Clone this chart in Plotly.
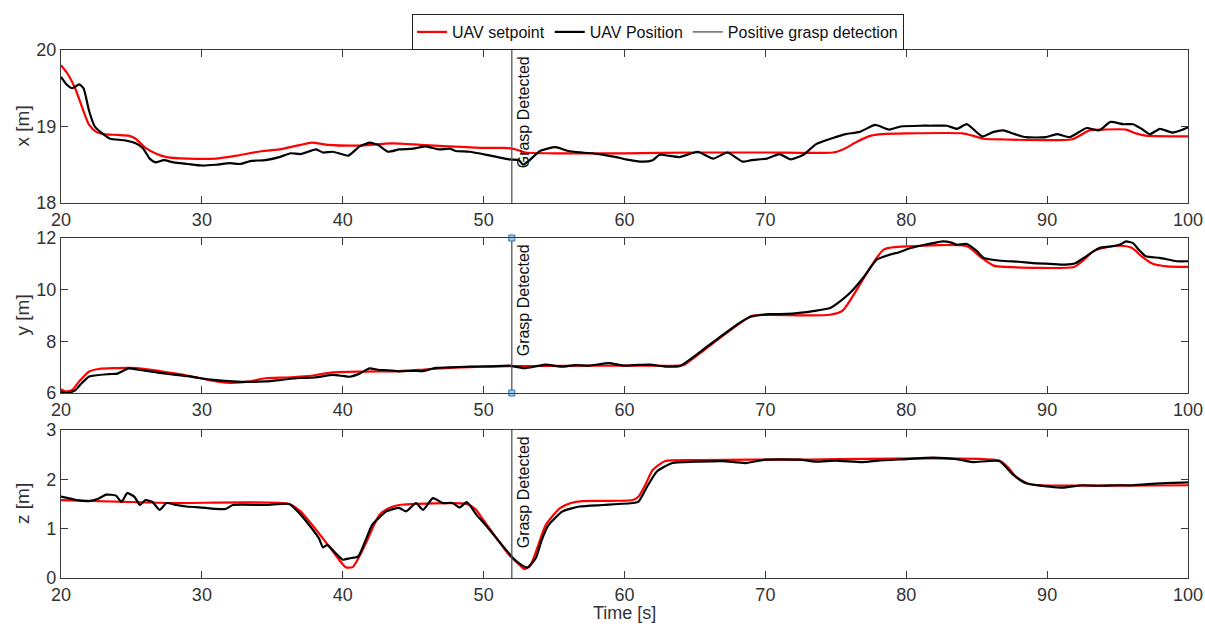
import plotly.graph_objects as go

# ---- time stamps / values for each channel (s, m) ----
x_sp_t = [20, 20.5, 21, 21.5, 22, 22.5, 23, 24, 24.8, 25.3, 26, 26.8, 27.5, 29, 31, 32.5, 34, 35.5,
          37, 37.8, 39, 41, 43.5, 45.5, 47.5, 50, 51.5, 52.3, 53, 55, 60, 65, 70, 74.8, 75.5, 76.5,
          77.5, 78.3, 80, 84, 84.7, 85.5, 87, 91.7, 92.3, 93, 94, 95.6, 96.3, 97, 100]
x_sp = [19.80, 19.68, 19.50, 19.25, 19.02, 18.93, 18.90, 18.89, 18.88, 18.84, 18.72, 18.64, 18.60,
        18.58, 18.58, 18.62, 18.67, 18.70, 18.76, 18.79, 18.76, 18.75, 18.78, 18.76, 18.74, 18.72,
        18.72, 18.70, 18.66, 18.65, 18.65, 18.66, 18.66, 18.66, 18.70, 18.80, 18.88, 18.90, 18.91,
        18.91, 18.88, 18.84, 18.83, 18.83, 18.88, 18.95, 18.96, 18.96, 18.91, 18.88, 18.87]

x_pos_t = [20, 20.4, 20.8, 21.3, 21.6, 22, 22.4, 23, 23.5, 24.5, 25.3, 25.8, 26.3, 26.7, 27.3, 28, 29,
           30, 31, 32, 32.7, 33.5, 34.5, 35.5, 36.3, 37, 38.1, 38.6, 39.3, 40.4, 41.2, 41.9, 42.5,
           43.2, 44, 45, 45.9, 46.8, 47.6, 48, 49, 50.2, 51, 51.8, 52.5, 52.8, 53.2, 54, 55.1, 56,
           57, 58.2, 59.4, 60.1, 61.3, 62, 62.5, 63.9, 65.2, 66.3, 67.3, 68.4, 69, 70.1, 71, 71.8,
           72.7, 73.6, 74.8, 75.7, 76.7, 77.8, 78.8, 79.6, 81, 81.7, 82.9, 83.6, 84.3, 85.4, 86.2,
           86.9, 87.7, 88.5, 89.9, 90.7, 91.6, 92.8, 93.7, 94.5, 95.4, 96.1, 96.7, 97.3, 98, 98.9,
           99.5, 100]
x_pos = [19.65, 19.55, 19.50, 19.55, 19.50, 19.20, 19.00, 18.90, 18.84, 18.82, 18.78, 18.72, 18.58,
         18.53, 18.56, 18.53, 18.51, 18.49, 18.50, 18.52, 18.51, 18.55, 18.56, 18.60, 18.65, 18.64,
         18.70, 18.66, 18.67, 18.62, 18.74, 18.79, 18.76, 18.67, 18.70, 18.71, 18.74, 18.70, 18.71,
         18.68, 18.67, 18.63, 18.60, 18.57, 18.56, 18.50, 18.55, 18.68, 18.73, 18.68, 18.66, 18.64,
         18.60, 18.57, 18.54, 18.56, 18.63, 18.60, 18.67, 18.58, 18.66, 18.54, 18.56, 18.58, 18.64,
         18.57, 18.63, 18.77, 18.85, 18.90, 18.93, 19.02, 18.96, 19.00, 19.01, 19.01, 19.01, 18.97,
         19.03, 18.87, 18.93, 18.95, 18.90, 18.86, 18.86, 18.90, 18.86, 18.98, 18.95, 19.06, 19.03,
         19.03, 18.97, 18.90, 18.97, 18.92, 18.95, 18.99]

y_sp_t = [20, 20.3, 20.8, 21.3, 22, 22.7, 24.8, 26, 27, 28.5, 29.8, 31, 31.7, 32.5, 33.4, 34.5, 36,
          37.5, 39.3, 41.6, 44, 46, 48, 50, 52, 55, 60, 64, 64.2, 69, 70, 74.6, 75.5, 78.4, 80.3,
          84.3, 85.3, 86.2, 87, 91.9, 92.5, 93.3, 94, 95.2, 96, 96.8, 97.5, 98.5, 100]
y_sp = [6.15, 6.06, 6.12, 6.45, 6.83, 6.93, 6.97, 6.93, 6.85, 6.72, 6.58, 6.45, 6.40, 6.40, 6.45,
        6.57, 6.60, 6.65, 6.80, 6.83, 6.85, 6.92, 6.98, 7.02, 7.04, 7.05, 7.06, 7.06, 7.08, 8.98,
        9.02, 9.03, 9.20, 11.55, 11.68, 11.68, 11.25, 10.93, 10.88, 10.88, 11.10, 11.50, 11.62,
        11.70, 11.62, 11.25, 11.00, 10.90, 10.88]

y_pos_t = [20, 20.5, 21, 21.5, 22, 23.4, 24, 24.8, 25.5, 26.2, 27, 27.9, 29, 29.8, 31, 32.2, 33.5,
           34.5, 35.5, 36.9, 38, 39.3, 40, 40.5, 41.2, 41.9, 42.5, 43.2, 44, 45, 45.7, 46.6, 47.5,
           49, 50.5, 51.8, 52.9, 53.7, 54.4, 55.5, 56.5, 57.5, 58.9, 59.9, 61, 61.8, 62.9, 64, 66,
           68, 68.9, 70.3, 71.5, 72.4, 73.5, 74.6, 75.3, 76, 77, 77.9, 78.8, 79.5, 80.3, 81, 81.9,
           82.6, 83.2, 83.6, 84.3, 85, 85.5, 86.7, 88, 89, 90.2, 91.3, 92, 92.6, 93.7, 94.6, 95.2,
           95.6, 96.1, 96.5, 97, 98, 99.2, 100]
y_pos = [6.05, 6.00, 6.10, 6.40, 6.64, 6.73, 6.75, 6.95, 6.90, 6.85, 6.78, 6.72, 6.65, 6.58, 6.50,
         6.45, 6.43, 6.45, 6.50, 6.58, 6.60, 6.70, 6.66, 6.63, 6.75, 6.95, 6.90, 6.88, 6.84, 6.86,
         6.85, 6.97, 6.99, 7.02, 7.03, 7.06, 6.96, 7.03, 7.10, 7.02, 7.08, 7.06, 7.16, 7.06, 7.09,
         7.10, 7.02, 7.06, 7.85, 8.65, 8.94, 9.05, 9.06, 9.10, 9.18, 9.29, 9.55, 9.87, 10.50, 11.16,
         11.35, 11.45, 11.61, 11.70, 11.80, 11.87, 11.82, 11.74, 11.77, 11.50, 11.23, 11.12, 11.08,
         11.03, 11.00, 10.97, 11.02, 11.23, 11.61, 11.68, 11.75, 11.87, 11.80, 11.55, 11.29, 11.23,
         11.10, 11.10]

z_sp_t = [20, 27.5, 36.2, 37, 38.1, 39.3, 40.2, 40.7, 41.2, 41.7, 42.6, 43.3, 44, 48.8, 49.4, 49.9,
          51.8, 52.5, 52.9, 53.3, 53.8, 54.4, 55.4, 56.2, 57, 60.6, 61, 61.5, 62, 62.9, 65.3, 72.4,
          86.6, 87.2, 87.8, 88.5, 89, 100]
z_sp = [1.58, 1.52, 1.50, 1.35, 0.98, 0.54, 0.22, 0.22, 0.45, 0.74, 1.28, 1.42, 1.48, 1.50, 1.40,
        1.21, 0.47, 0.28, 0.18, 0.25, 0.60, 1.07, 1.41, 1.52, 1.56, 1.58, 1.65, 1.90, 2.19, 2.37,
        2.39, 2.40, 2.38, 2.25, 2.05, 1.93, 1.89, 1.88]

z_pos_t = [20, 20.5, 21.1, 22, 22.6, 23.2, 23.9, 24.3, 24.7, 25.2, 25.6, 26, 26.5, 27, 27.5, 28.2,
           28.9, 30.3, 31, 31.7, 32.2, 34.6, 36.2, 36.9, 37.6, 38.3, 38.6, 38.9, 39.5, 40, 40.5,
           41.1, 41.6, 42.1, 43.1, 44, 44.5, 45.2, 45.7, 46.4, 47.1, 47.8, 48.3, 48.8, 49.5, 50.3,
           51.1, 52.1, 52.6, 53.1, 53.7, 54.1, 54.6, 55.6, 56.8, 58.5, 60.6, 61, 61.6, 62.3, 63.4,
           65.3, 67, 68.6, 70, 72.4, 73.6, 75, 76.9, 78, 80, 81.9, 83.6, 84.7, 86.6, 87.6, 88.5,
           90.2, 91.1, 92.5, 93.7, 95, 96.1, 98, 100]
z_pos = [1.65, 1.62, 1.58, 1.56, 1.60, 1.69, 1.67, 1.54, 1.72, 1.65, 1.48, 1.58, 1.54, 1.38, 1.52,
         1.48, 1.45, 1.42, 1.40, 1.40, 1.48, 1.48, 1.50, 1.32, 1.08, 0.81, 0.62, 0.67, 0.50, 0.37,
         0.40, 0.44, 0.75, 1.08, 1.35, 1.42, 1.35, 1.52, 1.38, 1.62, 1.52, 1.52, 1.43, 1.54, 1.28,
         1.02, 0.74, 0.40, 0.28, 0.21, 0.40, 0.75, 1.07, 1.35, 1.45, 1.48, 1.52, 1.55, 1.85, 2.16,
         2.33, 2.36, 2.37, 2.33, 2.40, 2.40, 2.36, 2.38, 2.35, 2.38, 2.41, 2.44, 2.41, 2.35, 2.37,
         2.09, 1.92, 1.85, 1.83, 1.88, 1.87, 1.88, 1.88, 1.92, 1.94]

grasp_t = 52.0
x_ticks = [20, 30, 40, 50, 60, 70, 80, 90, 100]
panels = [
    # (setpoint t, setpoint, position t, position, y range, y ticks, label)
    (x_sp_t, x_sp, x_pos_t, x_pos, [18, 20], [18, 19, 20], "x [m]"),
    (y_sp_t, y_sp, y_pos_t, y_pos, [6, 12], [6, 8, 10, 12], "y [m]"),
    (z_sp_t, z_sp, z_pos_t, z_pos, [0, 3], [0, 1, 2, 3], "z [m]"),
]

W, H = 1205, 626
x_dom = [61 / W, 1188 / W]
y_doms = [[1 - 203 / H, 1 - 50 / H], [1 - 393 / H, 1 - 238 / H], [1 - 578 / H, 1 - 430 / H]]

FONT = "Liberation Sans, Arial, sans-serif"
TXT = "#333333"
AX = "#3a3a3a"

fig = go.Figure()
layout = dict(
    width=W, height=H, margin=dict(l=0, r=0, t=0, b=0, autoexpand=False),
    paper_bgcolor="white", plot_bgcolor="white",
    font=dict(family=FONT, size=18, color=TXT),
    showlegend=True,
    legend=dict(orientation="h", x=658 / W, xanchor="center", y=1 - 14 / H, yanchor="top",
                bordercolor="#222222", borderwidth=1, bgcolor="white",
                font=dict(family=FONT, size=16, color="#111111"),
                itemwidth=30, tracegroupgap=0),
    annotations=[], shapes=[],
)

for i, (st, sv, pt, pv, yr, yt, lab) in enumerate(panels):
    n = "" if i == 0 else str(i + 1)
    xa, ya = "x" + n, "y" + n
    first = i == 0
    fig.add_trace(go.Scatter(x=st, y=sv, mode="lines", name="UAV setpoint",
                             line=dict(color="#ff0000", width=2.2, shape="spline", smoothing=0.6),
                             xaxis=xa, yaxis=ya, showlegend=first, legendgroup="sp"))
    fig.add_trace(go.Scatter(x=pt, y=pv, mode="lines", name="UAV Position",
                             line=dict(color="#000000", width=2.2, shape="spline", smoothing=0.5),
                             xaxis=xa, yaxis=ya, showlegend=first, legendgroup="pos"))
    fig.add_trace(go.Scatter(x=[grasp_t, grasp_t], y=yr, mode="lines",
                             name="Positive grasp detection",
                             line=dict(color="#555555", width=1.3),
                             xaxis=xa, yaxis=ya, showlegend=first, legendgroup="gd"))
    if i == 1:
        # data-tip markers at the ends of the detection line
        fig.add_trace(go.Scatter(x=[grasp_t, grasp_t], y=yr, mode="markers",
                                 marker=dict(symbol="square", size=6, color="#a9cbe9",
                                             line=dict(color="#2f6fb0", width=1)),
                                 xaxis=xa, yaxis=ya, showlegend=False, hoverinfo="skip",
                                 cliponaxis=False))
    layout["xaxis" + n] = dict(domain=x_dom, anchor=ya, range=[20, 100], tickvals=x_ticks,
                               ticks="inside", ticklen=7, tickwidth=1.2, tickcolor=AX,
                               showline=True, linecolor=AX, linewidth=1.2, mirror="ticks",
                               showgrid=False, zeroline=False, automargin=False,
                               tickfont=dict(size=18, color=TXT))
    layout["yaxis" + n] = dict(domain=y_doms[i], anchor=xa, range=yr, tickvals=yt,
                               ticks="inside", ticklen=7, tickwidth=1.2, tickcolor=AX,
                               showline=True, linecolor=AX, linewidth=1.2, mirror="ticks",
                               showgrid=False, zeroline=False, automargin=False,
                               tickfont=dict(size=18, color=TXT))
    layout["annotations"].append(dict(
        x=grasp_t, xref=xa, y=yr[1], yref=ya, text="Grasp Detected", showarrow=False,
        textangle=-90, xanchor="left", yanchor="top", xshift=1, yshift=-4,
        font=dict(family=FONT, size=16, color="#111111")))
    layout["annotations"].append(dict(
        x=22 / W, xref="paper", y=sum(y_doms[i]) / 2, yref="paper", text=lab,
        showarrow=False, textangle=-90, xanchor="center", yanchor="middle",
        font=dict(family=FONT, size=19, color=TXT)))

layout["annotations"].append(dict(
    x=sum(x_dom) / 2, xref="paper", y=1 - 613 / H, yref="paper", text="Time [s]",
    showarrow=False, xanchor="center", yanchor="middle",
    font=dict(family=FONT, size=18, color=TXT)))

fig.update_layout(**layout)
fig.write_html("out.html")
